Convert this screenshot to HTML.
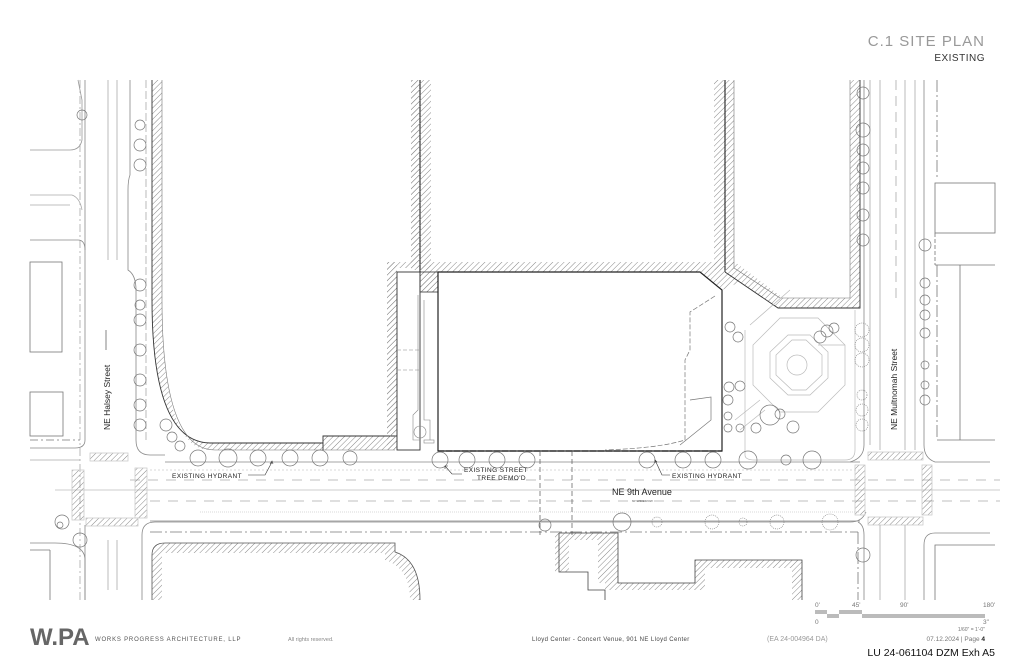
<!DOCTYPE html>
<html><head><meta charset="utf-8"><style>
html,body{margin:0;padding:0;background:#fff;}
svg{display:block;}
text{font-family:"Liberation Sans",sans-serif;}
</style></head><body>
<svg width="1024" height="663" viewBox="0 0 1024 663" xmlns="http://www.w3.org/2000/svg">
<defs>
<pattern id="h" width="4" height="4" patternUnits="userSpaceOnUse" patternTransform="rotate(45)">
<line x1="0" y1="0" x2="0" y2="4" stroke="#888" stroke-width="1"/>
</pattern>
</defs>
<rect width="1024" height="663" fill="#fff"/>

<!-- Title -->
<text x="985" y="46" text-anchor="end" font-size="15" fill="#999" letter-spacing="1">C.1 SITE PLAN</text>
<text x="985" y="61" text-anchor="end" font-size="10" fill="#333" letter-spacing="0.5">EXISTING</text>

<g fill="none" stroke="#aaa" stroke-width="0.8">
<!-- Halsey street lines -->
<line x1="80" y1="80" x2="80" y2="600" stroke-dasharray="8,3,2,3"/>
<line x1="85" y1="80" x2="85" y2="440" stroke="#888"/>
<line x1="85" y1="525" x2="85" y2="600" stroke="#888"/>
<line x1="108" y1="80" x2="108" y2="260"/>
<line x1="117" y1="80" x2="117" y2="260"/>
<line x1="108" y1="540" x2="108" y2="590"/>
<line x1="117" y1="540" x2="117" y2="590"/>
<path d="M130 80 V175 Q128 180 128 190 V270 Q136 275 136 290 V440 Q136 455 150 455 H165" stroke="#888"/>
<line x1="146" y1="80" x2="146" y2="440" stroke-dasharray="8,3"/>
<path d="M142 600 V535 Q142 522 155 522 H850 Q862 522 866 512" stroke="#888"/>
<line x1="150" y1="532" x2="858" y2="532" stroke="#777" stroke-dasharray="12,3,2,3"/>
<line x1="858" y1="532" x2="858" y2="600" stroke="#777" stroke-dasharray="12,3,2,3"/>
<!-- top-left block -->
<path d="M30 195 H72 Q80 198 82 210" />
<path d="M30 205 H70" />
<path d="M30 150 H70 Q80 150 82 140 V100 Q80 90 78 80" stroke="#999"/>
<path d="M30 240 H78 Q85 240 85 250" stroke="#888"/>
<rect x="30" y="262" width="32" height="90" stroke="#777"/>
<rect x="30" y="392" width="33" height="44" stroke="#777"/>
<path d="M30 448 H75 Q85 448 85 440" stroke="#888"/>
<line x1="30" y1="440" x2="80" y2="440" stroke="#777" stroke-dasharray="8,3,2,3"/>
<path d="M30 543 H55 Q85 543 85 560 V600" stroke="#888"/>
<line x1="30" y1="550" x2="50" y2="550" stroke="#777"/>
<line x1="50" y1="550" x2="50" y2="600" stroke="#777"/>
<!-- NE 9th road -->
<line x1="165" y1="462" x2="860" y2="462" stroke="#888"/>
<line x1="30" y1="460" x2="80" y2="460"/>
<line x1="150" y1="470" x2="860" y2="470" stroke-dasharray="2,2" stroke="#ccc"/>
<line x1="55" y1="490" x2="1000" y2="490" stroke="#bbb"/>
<line x1="130" y1="480" x2="1000" y2="480" stroke-dasharray="10,8"/>
<line x1="150" y1="501" x2="1000" y2="501" stroke-dasharray="10,8"/>
<line x1="200" y1="512" x2="860" y2="512" stroke="#ccc" stroke-dasharray="1,1"/>
<line x1="150" y1="521" x2="860" y2="521" stroke="#888"/>
<!-- crosswalks -->
<rect x="90" y="453" width="38" height="8" fill="url(#h)" stroke="#ccc"/>
<rect x="72" y="470" width="12" height="50" fill="url(#h)" stroke="#ccc"/>
<rect x="135" y="468" width="12" height="50" fill="url(#h)" stroke="#ccc"/>
<rect x="86" y="518" width="52" height="8" fill="url(#h)" stroke="#ccc"/>
<rect x="868" y="452" width="55" height="8" fill="url(#h)" stroke="#ccc"/>
<rect x="855" y="465" width="10" height="50" fill="url(#h)" stroke="#ccc"/>
<rect x="922" y="465" width="10" height="50" fill="url(#h)" stroke="#ccc"/>
<rect x="868" y="517" width="55" height="8" fill="url(#h)" stroke="#ccc"/>
<!-- Multnomah -->
<line x1="864" y1="80" x2="864" y2="445" stroke="#888"/>
<line x1="870" y1="80" x2="870" y2="445"/>
<line x1="880" y1="80" x2="880" y2="450"/>
<line x1="896" y1="80" x2="896" y2="300" stroke-dasharray="10,6"/>
<line x1="905" y1="80" x2="905" y2="450"/>
<line x1="915" y1="80" x2="915" y2="450"/>
<line x1="880" y1="525" x2="880" y2="600"/>
<line x1="905" y1="525" x2="905" y2="600"/>
<path d="M864 445 Q864 458 850 462" stroke="#888"/>
<path d="M924 80 V445 Q924 458 935 462 H990" stroke="#888"/>
<line x1="937" y1="80" x2="937" y2="180" stroke="#777" stroke-dasharray="12,3,2,3"/>
<rect x="935" y="183" width="60" height="50" stroke="#777"/>
<line x1="935" y1="233" x2="935" y2="265" stroke="#777" stroke-dasharray="4,2"/>
<path d="M935 265 H995 M960 265 V440 H995 M937 440 H960" stroke="#777"/>
<line x1="937" y1="265" x2="937" y2="440" stroke="#777" stroke-dasharray="12,3,2,3"/>
<path d="M990 533 H935 Q924 533 924 545 V600" stroke="#888"/>
<path d="M995 545 H935 V600" stroke="#777"/>
<path d="M864 600 V535 Q864 525 858 522" stroke="#888"/>
</g>

<!-- Block 1 hatched walls -->
<path d="M152 80 V300 Q152 442 210 443 H323 V436 H387 V262 H411 V80 H421 V268 H397 V450 H210 Q162 450 162 300 V80 Z" fill="url(#h)" stroke="none"/>
<path d="M152 80 V300 Q152 442 210 443 H323" fill="none" stroke="#333" stroke-width="0.9"/>
<path d="M162 80 V300 Q162 450 215 450 H395" fill="none" stroke="#777" stroke-width="0.6"/>
<path d="M323 450 V436 H397" fill="none" stroke="#333" stroke-width="0.9"/>
<line x1="420" y1="80" x2="420" y2="272" stroke="#222" stroke-width="1.1"/>
<rect x="411" y="80" width="20" height="190" fill="url(#h)"/>
<rect x="714" y="80" width="20" height="190" fill="url(#h)"/>
<line x1="725" y1="80" x2="725" y2="272" stroke="#222" stroke-width="1.1"/>
<!-- top hatch band -->
<polygon points="420,262 725,262 735,262 783,298 850,298 850,80 860,80 860,308 778,308 740,282 722,290 700,272 438,272 438,292 420,292" fill="url(#h)"/>
<polyline points="734,80 734,268 780,298 850,298 850,80" fill="none" stroke="#777" stroke-width="0.6"/>
<polyline points="725,272 778,308 860,308 860,80" fill="none" stroke="#333" stroke-width="0.9"/>
<!-- left wing -->
<rect x="387" y="262" width="10" height="188" fill="url(#h)"/>
<rect x="397" y="272" width="23" height="178" fill="none" stroke="#333" stroke-width="0.9"/>
<rect x="420" y="272" width="18" height="20" fill="url(#h)" stroke="#333" stroke-width="0.8"/>
<g fill="none" stroke="#888" stroke-width="0.6">
<path d="M418 295 V410 L413 415 V440 H420"/>
<path d="M424 300 V420 H430 V440"/>
<rect x="424" y="440" width="10" height="3"/>
<circle cx="420" cy="432" r="6"/>
<path d="M397 350 H420 M397 370 H420" stroke-dasharray="4,2"/>
</g>
<!-- Main building -->
<path d="M438 272 H700 L722 290 V451 H438 Z" fill="#fff" stroke="#222" stroke-width="1.2"/>
<line x1="438" y1="451" x2="722" y2="451" stroke="#222" stroke-width="1.2" stroke-dasharray="6,2"/>
<line x1="438" y1="292" x2="438" y2="451" stroke="#222" stroke-width="1" stroke-dasharray="6,2"/>
<path d="M715 296 L690 312 V350 L685 360 V440 Q660 448 605 450" fill="none" stroke="#777" stroke-width="0.7" stroke-dasharray="5,2"/>
<path d="M690 400 L711 397 V420 L680 445" fill="none" stroke="#777" stroke-width="0.7"/>
<!-- plaza -->
<g fill="none" stroke="#bbb" stroke-width="0.7">
<path d="M750 325 L790 290 M745 330 V455 Q745 460 755 460 H845 Q855 460 855 450 V310"/>
<polygon points="780,318 818,318 845,345 845,385 818,412 780,412 753,385 753,345"/>
<polygon points="788,335 810,335 828,352 828,378 810,395 788,395 770,378 770,352"/>
<polygon points="792,340 806,340 822,355 822,375 806,390 792,390 776,375 776,355"/>
<circle cx="797" cy="365" r="10"/>
<path d="M818 345 H845"/>
<path d="M735 420 L760 400 M740 430 L765 410"/>
</g>
<g fill="none" stroke="#777" stroke-width="0.7">
<circle cx="730" cy="327" r="5"/><circle cx="738" cy="337" r="5"/>
<circle cx="820" cy="337" r="6"/><circle cx="827" cy="331" r="6"/><circle cx="834" cy="328" r="5"/>
<circle cx="729" cy="387" r="5"/><circle cx="740" cy="386" r="5"/>
<circle cx="728" cy="400" r="5"/><circle cx="728" cy="416" r="4"/>
<circle cx="728" cy="428" r="4"/><circle cx="740" cy="428" r="4"/><circle cx="756" cy="428" r="5"/>
<circle cx="770" cy="415" r="10"/><circle cx="780" cy="414" r="5"/><circle cx="793" cy="427" r="6"/>
</g>
<!-- trees north side 9th -->
<g fill="none" stroke="#777" stroke-width="0.7">
<circle cx="198" cy="458" r="8"/><circle cx="228" cy="458" r="9"/><circle cx="258" cy="458" r="8"/>
<circle cx="290" cy="458" r="8"/><circle cx="320" cy="458" r="8"/><circle cx="350" cy="458" r="7"/>
<circle cx="440" cy="460" r="8"/><circle cx="467" cy="460" r="8"/><circle cx="497" cy="460" r="8"/><circle cx="527" cy="460" r="8"/>
<circle cx="647" cy="460" r="8"/><circle cx="683" cy="460" r="8"/><circle cx="713" cy="460" r="8"/>
<circle cx="748" cy="460" r="9"/><circle cx="786" cy="460" r="5"/><circle cx="812" cy="460" r="9"/>
<circle cx="166" cy="425" r="6"/><circle cx="172" cy="437" r="5"/><circle cx="180" cy="446" r="5"/>
<circle cx="140" cy="125" r="5"/><circle cx="140" cy="145" r="6"/><circle cx="140" cy="165" r="6"/>
<circle cx="140" cy="285" r="6"/><circle cx="140" cy="305" r="5"/><circle cx="140" cy="320" r="6"/>
<circle cx="140" cy="350" r="6"/><circle cx="140" cy="380" r="6"/><circle cx="140" cy="405" r="6"/><circle cx="140" cy="425" r="6"/>
<circle cx="82" cy="115" r="5"/>
<circle cx="62" cy="522" r="7"/><circle cx="80" cy="540" r="7"/>
<circle cx="863" cy="93" r="6"/><circle cx="863" cy="130" r="7"/><circle cx="863" cy="150" r="6"/><circle cx="863" cy="168" r="6"/>
<circle cx="863" cy="188" r="6"/><circle cx="863" cy="215" r="6"/><circle cx="863" cy="240" r="6"/>
<circle cx="925" cy="245" r="6"/><circle cx="925" cy="283" r="5"/><circle cx="925" cy="300" r="5"/><circle cx="925" cy="315" r="5"/><circle cx="925" cy="333" r="5"/><circle cx="925" cy="365" r="4"/><circle cx="925" cy="385" r="4"/><circle cx="925" cy="400" r="5"/>
<circle cx="863" cy="555" r="7"/>
<circle cx="545" cy="525" r="6"/><circle cx="622" cy="522" r="9"/><circle cx="60" cy="525" r="3"/>
</g>
<g fill="none" stroke="#777" stroke-width="0.6">
<circle cx="657" cy="522" r="5" stroke-dasharray="1,1"/><circle cx="712" cy="522" r="7" stroke-dasharray="1,1"/>
<circle cx="743" cy="522" r="4" stroke-dasharray="1,1"/><circle cx="777" cy="522" r="7" stroke-dasharray="1,1"/>
<circle cx="830" cy="522" r="8" stroke-dasharray="1,1"/>
<circle cx="862" cy="330" r="7" stroke-dasharray="1,1"/><circle cx="862" cy="345" r="7" stroke-dasharray="1,1"/>
<circle cx="862" cy="360" r="7" stroke-dasharray="1,1"/><circle cx="862" cy="395" r="5" stroke-dasharray="1,1"/>
<circle cx="862" cy="410" r="6" stroke-dasharray="1,1"/><circle cx="862" cy="425" r="6" stroke-dasharray="1,1"/>
</g>
<!-- property dashed lines -->
<line x1="540" y1="451" x2="540" y2="535" stroke="#555" stroke-width="0.7" stroke-dasharray="5,3"/>
<line x1="572" y1="451" x2="572" y2="535" stroke="#555" stroke-width="0.7" stroke-dasharray="5,3"/>
<!-- bottom buildings -->
<path d="M152 600 V555 Q152 543 165 543 H395 V552 Q420 560 420 600 H410 Q410 568 385 560 V553 H162 V600 Z" fill="url(#h)"/>
<path d="M152 600 V555 Q152 543 165 543 H395 V552 Q420 560 420 600" fill="none" stroke="#555" stroke-width="0.8"/>
<path d="M559 533 H618 V583 H695 V560 H802 V600 H792 V568 H705 V590 H605 V583 H598 V540 H569 V572 H555 V533 Z" fill="url(#h)"/>
<path d="M559 533 H618 V583 H695 V560 H802 V600 M559 533 V572 H588 V590 H605 V600" fill="none" stroke="#444" stroke-width="0.8"/>

<!-- labels -->
<text x="0" y="0" font-size="8.5" fill="#222" transform="translate(110,430) rotate(-90)">NE Halsey Street</text>
<line x1="106" y1="350" x2="106" y2="330" stroke="#333" stroke-width="0.6"/>
<text x="0" y="0" font-size="8.5" fill="#222" transform="translate(897,430) rotate(-90)">NE Multnomah Street</text>
<text x="612" y="495" font-size="9" fill="#222">NE 9th Avenue</text>
<text x="632" y="502" font-size="3" fill="#555">60' WIDE ROW</text>
<g font-size="6.5" fill="#222" letter-spacing="0.4">
<text x="172" y="478">EXISTING HYDRANT</text>
<text x="464" y="472">EXISTING STREET</text>
<text x="477" y="480">TREE DEMO'D</text>
<text x="672" y="478">EXISTING HYDRANT</text>
</g>
<g fill="none" stroke="#333" stroke-width="0.6">
<path d="M248 475 H265 L272 462"/><path d="M270 464 l2 -3 l1 3"/>
<path d="M462 474 H452 L445 466"/><path d="M445 469 v-3 h3"/>
<path d="M670 475 H662 L655 460"/><path d="M655 463 v-3 l2 2"/>
</g>

<!-- scale bar -->
<g font-size="6.5" fill="#777">
<text x="815" y="607">0'</text><text x="852" y="607">45'</text><text x="900" y="607">90'</text><text x="983" y="607">180'</text>
<text x="815" y="624">0</text><text x="983" y="624">3"</text>
<text x="985" y="631" text-anchor="end" font-size="5">1/60" = 1'-0"</text>
<text x="985" y="641" text-anchor="end">07.12.2024  |  Page <tspan fill="#222" font-weight="bold">4</tspan></text>
</g>
<rect x="815" y="610" width="12" height="4" fill="#bbb"/>
<rect x="827" y="614" width="12" height="4" fill="#bbb"/>
<rect x="839" y="610" width="23" height="4" fill="#bbb"/>
<rect x="862" y="614" width="123" height="4" fill="#bbb"/>

<!-- footer -->
<text x="30" y="645" font-size="24" font-weight="bold" fill="#666">W.PA</text>
<text x="95" y="641" font-size="6" fill="#555" letter-spacing="0.8">WORKS PROGRESS ARCHITECTURE, LLP</text>
<text x="288" y="641" font-size="5.5" fill="#888">All rights reserved.</text>
<text x="532" y="641" font-size="6" fill="#444" letter-spacing="0.4">Lloyd Center - Concert Venue, 901 NE Lloyd Center</text>
<text x="767" y="641" font-size="7" fill="#999">(EA 24-004964 DA)</text>
<text x="995" y="656" text-anchor="end" font-size="10.5" fill="#111">LU 24-061104 DZM   Exh A5</text>
</svg>
</body></html>
